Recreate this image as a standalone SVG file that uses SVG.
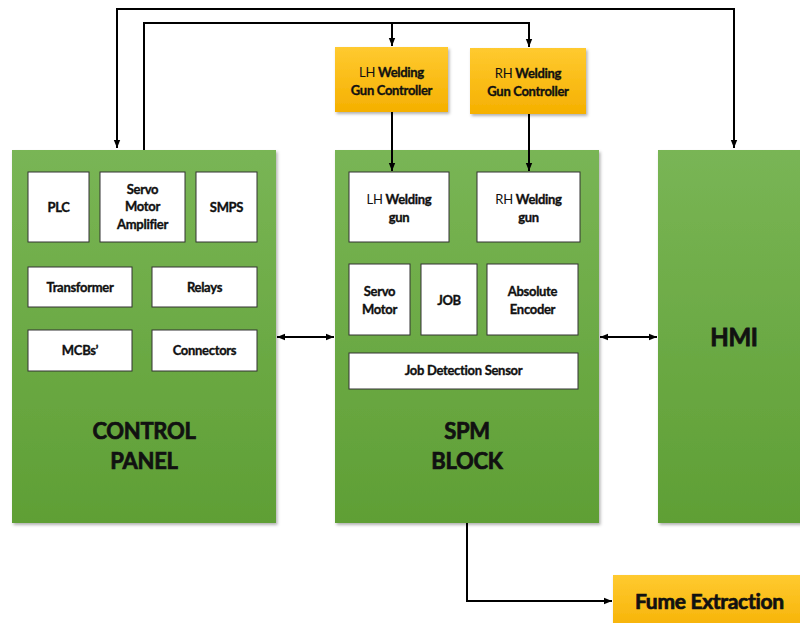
<svg xmlns="http://www.w3.org/2000/svg" width="800" height="623" viewBox="0 0 800 623">
<defs>
<linearGradient id="gGreen" x1="0" y1="0" x2="0" y2="1">
<stop offset="0" stop-color="#79b555"/>
<stop offset="1" stop-color="#5f9f35"/>
</linearGradient>
<linearGradient id="gOrange" x1="0" y1="0" x2="0" y2="1">
<stop offset="0" stop-color="#ffca30"/>
<stop offset="1" stop-color="#f5b000"/>
</linearGradient>
<filter id="sh" x="-10%" y="-10%" width="130%" height="130%">
<feDropShadow dx="1.5" dy="2" stdDeviation="1.5" flood-color="#000" flood-opacity="0.3"/>
</filter>
<marker id="ah" viewBox="0 0 10 10" refX="10" refY="5" markerWidth="8" markerHeight="8" markerUnits="userSpaceOnUse" orient="auto-start-reverse">
<path d="M0,1 L10,5 L0,9 z" fill="#000"/>
</marker>
</defs>
<style>
.blk{fill:url(#gGreen);filter:url(#sh)}
.ctl{fill:url(#gOrange);filter:url(#sh)}
.in{fill:#fff;stroke:#333;stroke-width:1}
.t{font-family:Lato,"Open Sans","Liberation Sans",sans-serif;font-weight:bold;fill:#111;stroke:#111;stroke-width:0.35px;text-anchor:middle;font-size:13px;letter-spacing:-0.3px}
.n{font-weight:normal;stroke:none}
.big{font-size:22px;stroke-width:0.7px}
.hmi{font-size:24px;stroke-width:0.8px}
.fume{font-size:21px;stroke-width:0.7px;text-anchor:start}
.c{fill:none;stroke:#000;stroke-width:2}
</style>
<rect width="800" height="623" fill="#fff"/>

<g id="control-panel">
<rect class="blk" x="12" y="150" width="264" height="373"/>
<g id="plc"><rect class="in" x="28" y="172" width="61" height="70"/><text class="t" x="58.5" y="212">PLC</text></g>
<g id="servo-amp"><rect class="in" x="100" y="172" width="85" height="70"/><text class="t" x="142.5" y="194">Servo</text><text class="t" x="142.5" y="211">Motor</text><text class="t" x="142.5" y="229">Amplifier</text></g>
<g id="smps"><rect class="in" x="196" y="172" width="61" height="70"/><text class="t" x="226.5" y="212">SMPS</text></g>
<g id="transformer"><rect class="in" x="28" y="267" width="104" height="40"/><text class="t" x="80" y="292">Transformer</text></g>
<g id="relays"><rect class="in" x="152" y="267" width="105" height="40"/><text class="t" x="204.5" y="292">Relays</text></g>
<g id="mcbs"><rect class="in" x="28" y="330" width="104" height="41"/><text class="t" x="80" y="355">MCBs’</text></g>
<g id="connectors-box"><rect class="in" x="152" y="330" width="105" height="41"/><text class="t" x="204.5" y="355">Connectors</text></g>
<text class="t big" x="144" y="439">CONTROL</text>
<text class="t big" x="144" y="469">PANEL</text>
</g>

<g id="spm-block">
<rect class="blk" x="335" y="150" width="264" height="373"/>
<g id="lh-gun"><rect class="in" x="349" y="172" width="100" height="70"/><text class="t" x="399" y="204"><tspan class="n">LH </tspan>Welding</text><text class="t" x="399" y="222">gun</text></g>
<g id="rh-gun"><rect class="in" x="477" y="172" width="103" height="70"/><text class="t" x="528.5" y="204"><tspan class="n">RH </tspan>Welding</text><text class="t" x="528.5" y="222">gun</text></g>
<g id="servo-motor"><rect class="in" x="349" y="264" width="61" height="71"/><text class="t" x="379.5" y="296">Servo</text><text class="t" x="379.5" y="314">Motor</text></g>
<g id="job"><rect class="in" x="421" y="264" width="56" height="71"/><text class="t" x="449" y="305">JOB</text></g>
<g id="encoder"><rect class="in" x="487" y="264" width="91" height="71"/><text class="t" x="532.5" y="296">Absolute</text><text class="t" x="532.5" y="314">Encoder</text></g>
<g id="job-sensor"><rect class="in" x="349" y="353" width="229" height="36"/><text class="t" x="463.5" y="375">Job Detection Sensor</text></g>
<text class="t big" x="467" y="439">SPM</text>
<text class="t big" x="467" y="469">BLOCK</text>
</g>

<g id="hmi">
<rect class="blk" x="658" y="150" width="160" height="373"/>
<text class="t hmi" x="734" y="346">HMI</text>
</g>

<g id="lh-controller">
<rect class="ctl" x="335" y="47" width="113" height="65"/>
<text class="t" x="391.5" y="77"><tspan class="n">LH  </tspan>Welding</text>
<text class="t" x="391.5" y="95">Gun Controller</text>
</g>
<g id="rh-controller">
<rect class="ctl" x="470" y="48" width="116" height="66"/>
<text class="t" x="528" y="78"><tspan class="n">RH  </tspan>Welding</text>
<text class="t" x="528" y="96">Gun Controller</text>
</g>

<g id="fume-extraction">
<rect class="ctl" x="613" y="575" width="200" height="60"/>
<text class="t fume" x="635" y="609">Fume Extraction</text>
</g>

<g id="connectors">
<path class="c" d="M117,148 V9 H734 V148" marker-start="url(#ah)" marker-end="url(#ah)"/>
<path class="c" d="M144,150 V23 H529 V47" marker-end="url(#ah)"/>
<path class="c" d="M392,23 V46" marker-end="url(#ah)"/>
<path class="c" d="M392,112 V171" marker-end="url(#ah)"/>
<path class="c" d="M529,114 V171" marker-end="url(#ah)"/>
<path class="c" d="M277,337 H334" stroke-width="1.6" marker-start="url(#ah)" marker-end="url(#ah)"/>
<path class="c" d="M600,337 H657" stroke-width="1.6" marker-start="url(#ah)" marker-end="url(#ah)"/>
<path class="c" d="M467,523 V601 H612" stroke-width="1.6" marker-end="url(#ah)"/>
</g>
</svg>
